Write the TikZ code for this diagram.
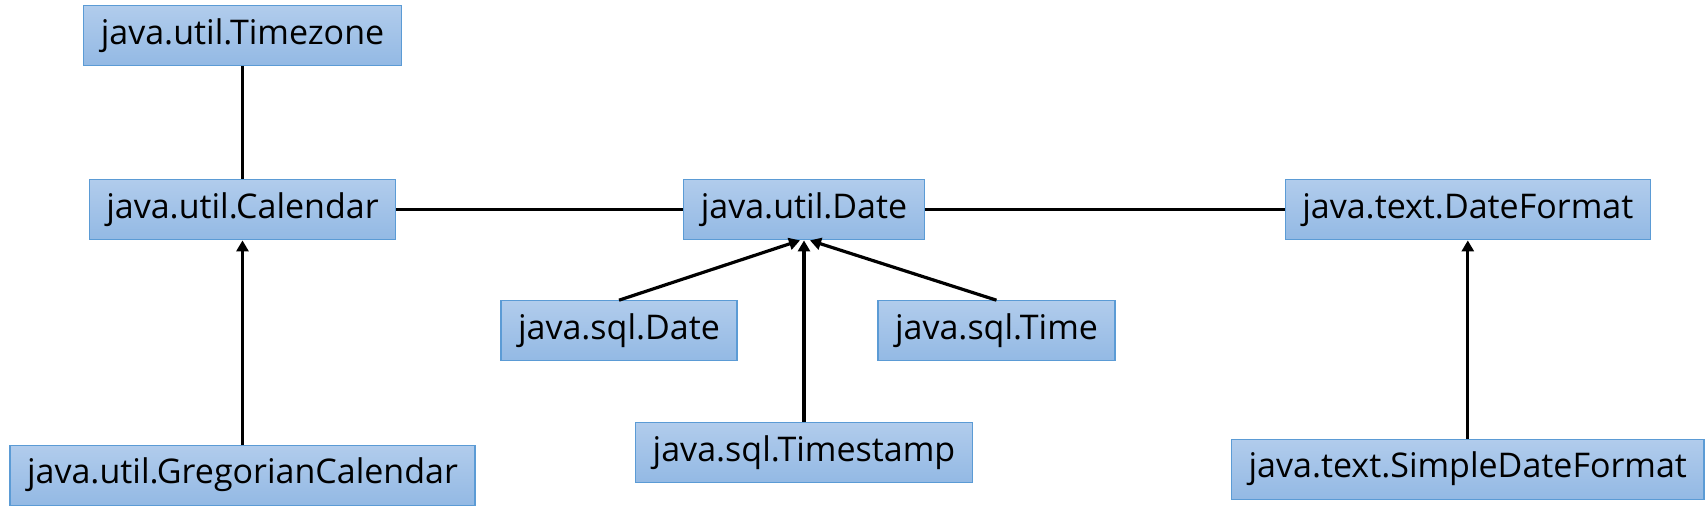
\documentclass[tikz,border=0pt]{standalone}
\usepackage{fontspec}
\setmainfont{Open Sans}
\usepackage{xcolor}
\usepackage{tikz}
\usetikzlibrary{positioning, arrows.meta}

\definecolor{boxtop}{RGB}{177,204,236}
\definecolor{boxbottom}{RGB}{147,185,228}
\definecolor{boxline}{RGB}{91,155,213}

\tikzset{
	cls/.style={draw=boxline, line width=0.6pt, top color=boxtop, bottom color=boxbottom,
		minimum height=30pt, inner xsep=8.5pt, font=\fontsize{17}{19}\selectfont},
	link/.style={line width=1.6pt},
	inherit/.style={line width=1.6pt, -{Triangle[length=5.5pt,width=6pt]}}
}

\begin{document}
\begin{tikzpicture}[on grid]
	\useasboundingbox (-402pt,104.9pt) rectangle (451.5pt,-155.1pt);

	\node[cls] (date) {java.util.Date};
	\node[cls, left=280.75pt of date] (cal) {java.util.Calendar};
	\node[cls, above=87.15pt of cal] (tz) {java.util.Timezone};
	\node[cls, below=132.65pt of cal] (greg) {java.util.GregorianCalendar};
	\node[cls] (sdate) [below left=60.5pt and 92.5pt of date] {java.sql.Date};
	\node[cls] (stime) [below right=60.5pt and 96.25pt of date] {java.sql.Time};
	\node[cls] (ts) [below=121.25pt of date] {java.sql.Timestamp};
	\node[cls, right=331.9pt of date] (df) {java.text.DateFormat};
	\node[cls] (sdf) [below=129.65pt of df] {java.text.SimpleDateFormat};

	\draw[link] (tz) -- (cal);
	\draw[link] (cal) -- (date);
	\draw[link] (date) -- (df);
	\draw[inherit] (greg) -- (cal);
	\draw[inherit] (sdate.north) -- ([xshift=-2pt]date.south);
	\draw[inherit] (ts) -- (date);
	\draw[inherit] (stime.north) -- ([xshift=3pt]date.south);
	\draw[inherit] (sdf) -- (df);
\end{tikzpicture}
\end{document}
